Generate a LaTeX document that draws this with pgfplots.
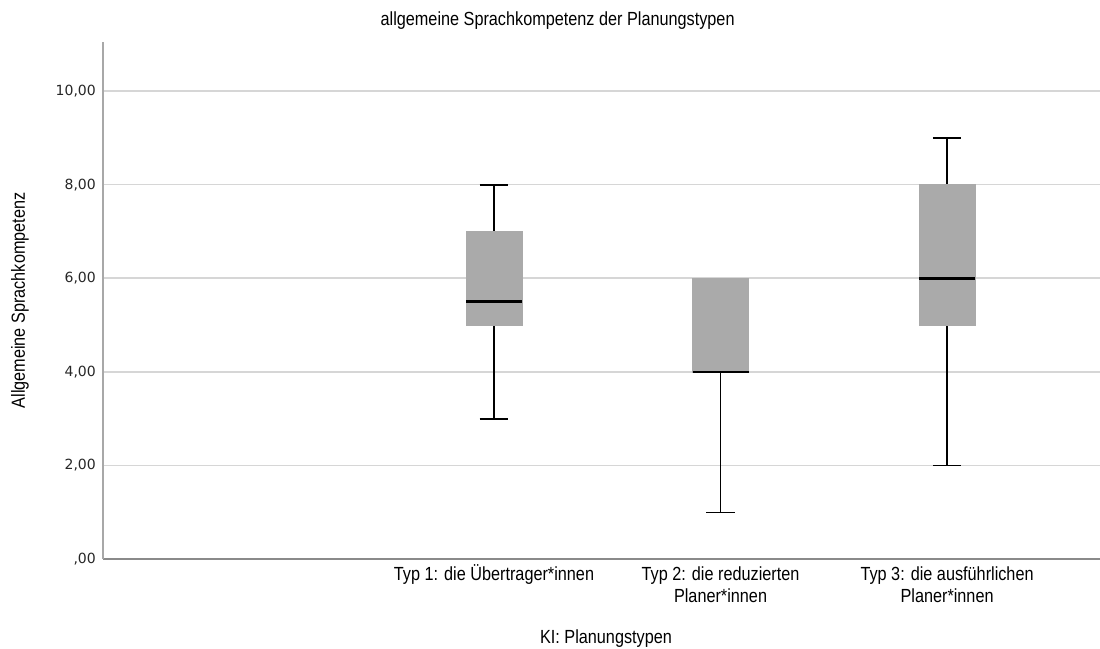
\documentclass[border=0pt]{standalone}
\usepackage{fontspec}
\setmainfont{Liberation Sans}[FakeStretch=0.855]
\newfontfamily\tickfont{DejaVu Sans}
\usepackage{pgfplots}
\pgfplotsset{compat=1.18}
\usepgfplotslibrary{statistics}
\definecolor{boxgray}{HTML}{AAAAAA}
\definecolor{gridgray}{HTML}{D6D6D6}
\definecolor{yaxisgray}{HTML}{A8A8A8}
\definecolor{xaxisgray}{HTML}{8A8A8A}
\begin{document}
\begin{tikzpicture}
\path[use as bounding box] (-103pt,-89pt) rectangle (997pt,559pt);
\begin{axis}[
  scale only axis,
  width=997pt, height=517pt,
  xmin=-0.726, xmax=3.675,
  ymin=0, ymax=11.05,
  separate axis lines,
  axis x line*=bottom, axis y line*=left,
  x axis line style={-, draw=xaxisgray, line width=2pt},
  y axis line style={-, draw=yaxisgray, line width=2pt},
  xtick={1,2,3},
  xticklabels={{Typ 1: die Übertrager*innen},{Typ 2: die reduzierten\vphantom{Ü}\\Planer*innen},{Typ 3: die ausführlichen\vphantom{Ü}\\Planer*innen}},
  ytick={0,2,4,6,8,10},
  yticklabels={{,00},{2,00},{4,00},{6,00},{8,00},{10,00}},
  major tick length=0pt,
  /pgf/number format/assume math mode=true,
  xticklabel style={font=\fontsize{19}{22}\selectfont, align=center, inner sep=0pt, yshift=-5pt},
  yticklabel style={font=\tickfont\fontsize{14}{16}\selectfont, text=black!85, inner sep=0pt, xshift=-7pt},
  ymajorgrids,
  grid style={draw=gridgray, line width=1.6pt},
  title={allgemeine Sprachkompetenz der Planungstypen},
  title style={font=\fontsize{19}{22}\selectfont, at={(axis description cs:0.456,1.029)}, anchor=center, inner sep=0pt},
  xlabel={KI: Planungstypen},
  xlabel style={font=\fontsize{19}{22}\selectfont, at={(axis description cs:0.5045,-0.153)}, anchor=center, inner sep=0pt},
  ylabel={Allgemeine Sprachkompetenz},
  ylabel style={font=\fontsize{19}{22}\selectfont, at={(axis description cs:-0.0833,0.5)}, anchor=center, rotate=0, inner sep=0pt},
  boxplot/draw direction=y,
  boxplot/every box/.style={draw=boxgray, fill=boxgray, line width=0.5pt},
  boxplot/every median/.style={draw=black, line width=2.7pt},
  boxplot/every whisker/.style={draw=black, line width=1.8pt},
]
\addplot[boxplot prepared={
  lower whisker=3, lower quartile=5, median=5.5,
  upper quartile=7, upper whisker=8,
  draw position=1, box extend=0.247, whisker extend=0.126}]
  coordinates {};
\addplot[boxplot prepared={
  lower whisker=1, lower quartile=4, median=4,
  upper quartile=6, upper whisker=6,
  draw position=2, box extend=0.247, whisker extend=0.126},
  boxplot/every whisker/.style={draw=black, line width=1.2pt}]
  coordinates {};
\addplot[boxplot prepared={
  lower whisker=2, lower quartile=5, median=6,
  upper quartile=8, upper whisker=9,
  draw position=3, box extend=0.247, whisker extend=0.126}]
  coordinates {};
\end{axis}
\end{tikzpicture}
\end{document}
